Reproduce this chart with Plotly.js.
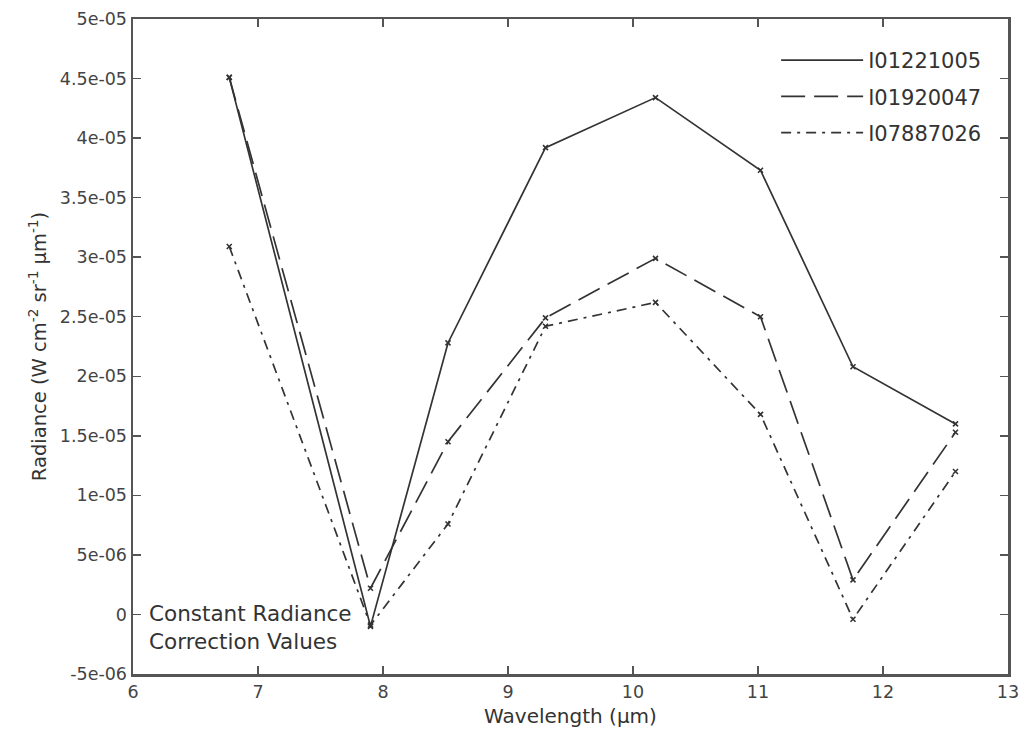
<!DOCTYPE html>
<html><head><meta charset="utf-8">
<script src="https://cdn.plot.ly/plotly-3.0.1.min.js"></script>
<style>body{margin:0;background:#fff}#c{width:1023px;height:738px}</style>
</head><body><div id="c"></div>
<script>
const wavelength = [6.77, 7.9, 8.52, 9.3, 10.18, 11.02, 11.76, 12.58];
const sA = [4.51e-5, -0.1e-5, 2.28e-5, 3.92e-5, 4.34e-5, 3.73e-5, 2.08e-5, 1.6e-5];
const sB = [4.51e-5, 0.22e-5, 1.45e-5, 2.49e-5, 2.99e-5, 2.5e-5, 0.29e-5, 1.53e-5];
const sC = [3.09e-5, -0.09e-5, 0.76e-5, 2.42e-5, 2.62e-5, 1.68e-5, -0.04e-5, 1.2e-5];
const names = ["I01221005", "I01920047", "I07887026"];
const yTickVals = [-5e-6, 0, 5e-6, 1e-5, 1.5e-5, 2e-5, 2.5e-5, 3e-5, 3.5e-5, 4e-5, 4.5e-5, 5e-5];
const yTickText = ["-5e-06", "0", "5e-06", "1e-05", "1.5e-05", "2e-05", "2.5e-05", "3e-05", "3.5e-05", "4e-05", "4.5e-05", "5e-05"];
const xTickVals = [6, 7, 8, 9, 10, 11, 12, 13];

const col = '#333';
const FF = 'DejaVu Sans, Liberation Sans, Arial, sans-serif';
const series = [sA, sB, sC];
const dashes = ['solid', '24px,9px', '10px,6px,3px,6px'];
const data = [];
series.forEach((y, i) => {
  data.push({x: wavelength, y: y, name: names[i], legendgroup: 'g' + i, mode: 'lines', type: 'scatter',
    line: {color: col, width: 1.7, dash: dashes[i]}});
});
series.forEach((y, i) => {
  data.push({x: wavelength, y: y, name: names[i], legendgroup: 'g' + i, showlegend: false, mode: 'markers', type: 'scatter',
    marker: {symbol: 'x-thin', size: 5, color: col, line: {color: col, width: 1.6}}});
});
const axisCommon = {showgrid: false, zeroline: false, showline: true, linecolor: '#555', linewidth: 2.5,
  mirror: 'allticks', ticks: 'inside', ticklen: 8, tickcolor: '#555', tickwidth: 1.5,
  tickfont: {family: FF, size: 17.5, color: '#444'}};
const layout = {
  width: 1023, height: 738,
  margin: {l: 133, r: 15, t: 19, b: 64},
  paper_bgcolor: '#fff', plot_bgcolor: '#fff',
  font: {family: FF, color: '#333'},
  showlegend: true,
  legend: {x: 0.735, y: 0.968, xanchor: 'left', yanchor: 'top', bgcolor: 'rgba(0,0,0,0)',
    itemwidth: 82, tracegroupgap: 6, font: {size: 21, color: '#333'}},
  xaxis: Object.assign({}, axisCommon, {range: [6, 13], tickvals: xTickVals, ticktext: xTickVals.map(String),
    title: {text: 'Wavelength (µm)', font: {size: 20, color: '#333'}, standoff: 9}}),
  yaxis: Object.assign({}, axisCommon, {range: [-5e-6, 5e-5], tickvals: yTickVals, ticktext: yTickText,
    title: {text: 'Radiance (W cm<sup>-2</sup> sr<sup>-1</sup> µm<sup>-1</sup>)', font: {size: 19.5, color: '#333'}, standoff: 8}}),
  annotations: [{xref: 'paper', yref: 'y', x: 0.016, y: -0.11e-5, xanchor: 'left', yanchor: 'middle', align: 'left',
    showarrow: false, text: 'Constant Radiance<br>Correction Values', font: {size: 21.5, color: '#333'}}]
};
Plotly.newPlot('c', data, layout, {displayModeBar: false, staticPlot: true});
</script></body></html>
